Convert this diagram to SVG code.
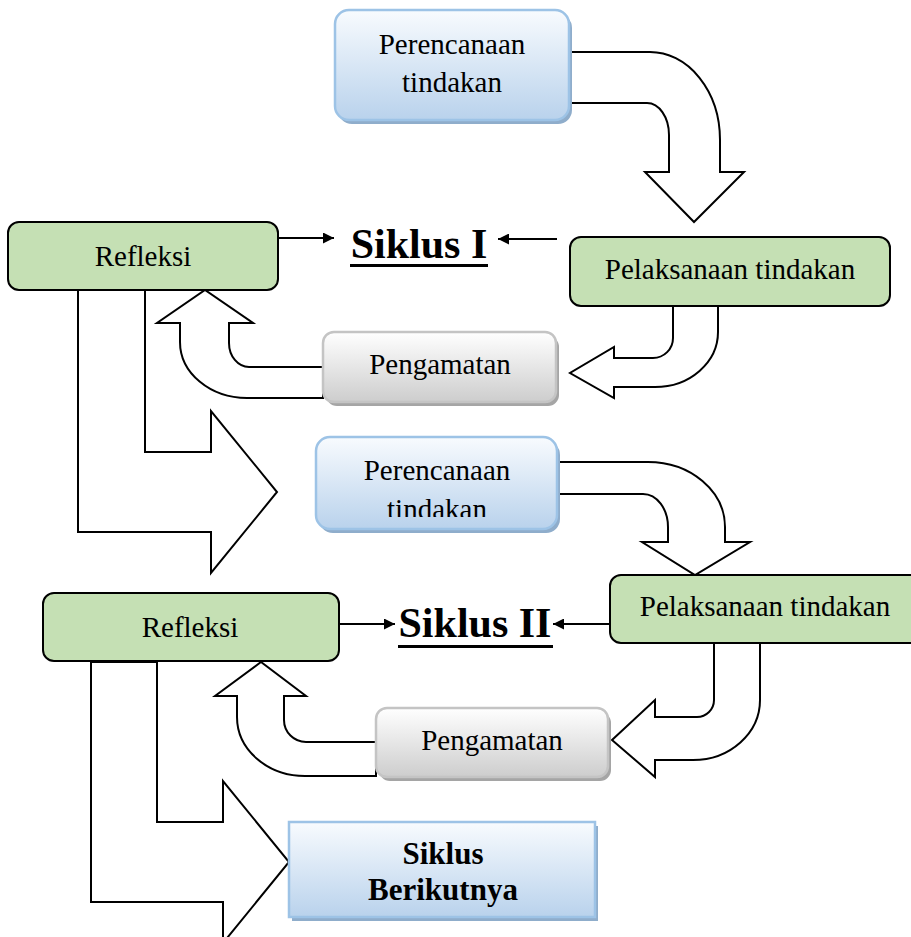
<svg xmlns="http://www.w3.org/2000/svg" width="911" height="937" viewBox="0 0 911 937">
<defs>
<linearGradient id="gBlue" x1="0" y1="0" x2="0" y2="1">
<stop offset="0" stop-color="#f8fbfe"/>
<stop offset="1" stop-color="#b9d2ec"/>
</linearGradient>
<linearGradient id="gGray" x1="0" y1="0" x2="0" y2="1">
<stop offset="0" stop-color="#ffffff"/>
<stop offset="1" stop-color="#cdcdcd"/>
</linearGradient>
<marker id="ah" viewBox="0 0 10 10" refX="10" refY="5" markerWidth="14" markerHeight="11" markerUnits="userSpaceOnUse" orient="auto">
<path d="M0,0 L10,5 L0,10 Z" fill="#000"/>
</marker>
<clipPath id="clipP2"><rect x="316" y="437" width="245" height="80"/></clipPath>
</defs>
<style>
.t{font-family:"Liberation Serif","Times New Roman",serif;font-size:29px;fill:#000;text-anchor:middle}
.tb{font-family:"Liberation Serif","Times New Roman",serif;font-weight:bold;fill:#000;text-anchor:middle}
.blk{fill:#fff;stroke:#000;stroke-width:2;stroke-linejoin:miter}
.green{fill:#c5e0b4;stroke:#000;stroke-width:2}
.blue{fill:url(#gBlue);stroke:#9dc3e6;stroke-width:2.5}
.blueSh{fill:#8fadcb}
.gray{fill:url(#gGray);stroke:#c4c4c4;stroke-width:2.5}
.graySh{fill:#a5a5a5}
.ln{stroke:#000;stroke-width:2;fill:none;marker-end:url(#ah)}
</style>

<g id="connectors">
<!-- cycle I -->
<path class="blk" d="M569,52 H650 A70,88 0 0 1 720,140 V172 H744 L694,222 L645,172 H669 V135 A22,32 0 0 0 647,103 H569 Z"/>
<path class="blk" d="M673,306 V338 A20,20 0 0 1 653,358 H614 V347 L570,373 L614,398 V387 H655 A63,55 0 0 0 718,332 V306 Z"/>
<path class="blk" d="M323,367 H249 A20,24 0 0 1 229,343 V323 H253 L205,290 L157,323 H180 V342 A67,56 0 0 0 247,398 H323 Z"/>
<path class="blk" d="M78,290 V532 H211 V573 L277,492 L211,411 V452 H145 V290"/>
<line class="ln" x1="278" y1="238" x2="334" y2="238"/>
<line class="ln" x1="557" y1="239" x2="498" y2="239"/>
<!-- cycle II -->
<path class="blk" d="M558,462 H648 A77,65 0 0 1 725,527 V542 H750 L695,575 L642,542 H668 V527 A25,33 0 0 0 643,494 H558 Z"/>
<path class="blk" d="M714,643 V700 A17,17 0 0 1 697,717 H655 V700 L612,740 L655,777 V760 H693 A67,60 0 0 0 760,700 V643 Z"/>
<path class="blk" d="M376,742 H306 A22,22 0 0 1 284,720 V696 H306 L261,662 L215,696 H237 V717 A68,59 0 0 0 305,776 H376 Z"/>
<path class="blk" d="M91,662 V902 H223 V943 L289,862 L223,781 V822 H157 V662 Z"/>
<line class="ln" x1="339" y1="624" x2="395" y2="624"/>
<line class="ln" x1="610" y1="624" x2="553" y2="624"/>
</g>

<g id="perencanaan1">
<rect class="blueSh" x="338" y="14" width="234" height="110" rx="14"/>
<rect class="blue" x="335" y="10" width="234" height="110" rx="14"/>
<text class="t" x="452" y="54">Perencanaan</text>
<text class="t" x="452" y="92">tindakan</text>
</g>

<g id="refleksi1">
<rect class="green" x="8" y="222" width="270" height="68" rx="11"/>
<text class="t" x="143" y="266">Refleksi</text>
</g>

<g id="siklus1">
<text class="tb" x="419" y="258" font-size="42">Siklus I</text>
<rect x="350" y="264" width="138" height="3" fill="#000"/>
</g>

<g id="pelaksanaan1">
<rect class="green" x="570" y="237" width="320" height="69" rx="11"/>
<text class="t" x="730" y="279">Pelaksanaan tindakan</text>
</g>

<g id="pengamatan1">
<rect class="graySh" x="326" y="336" width="233" height="70" rx="11"/>
<rect class="gray" x="323" y="332" width="233" height="70" rx="11"/>
<text class="t" x="440" y="374">Pengamatan</text>
</g>

<g id="perencanaan2">
<rect class="blueSh" x="319" y="441" width="241" height="92" rx="14"/>
<rect class="blue" x="316" y="437" width="241" height="92" rx="14"/>
<g clip-path="url(#clipP2)">
<text class="t" x="437" y="480">Perencanaan</text>
<text class="t" x="437" y="519">tindakan</text>
</g>
</g>

<g id="refleksi2">
<rect class="green" x="43" y="593" width="296" height="68" rx="11"/>
<text class="t" x="190" y="637">Refleksi</text>
</g>

<g id="siklus2">
<text class="tb" x="475" y="637" font-size="42">Siklus II</text>
<rect x="398" y="645" width="155" height="3" fill="#000"/>
</g>

<g id="pelaksanaan2">
<rect class="green" x="610" y="575" width="320" height="68" rx="11"/>
<text class="t" x="765" y="616">Pelaksanaan tindakan</text>
</g>

<g id="pengamatan2">
<rect class="graySh" x="379" y="712" width="232" height="69" rx="11"/>
<rect class="gray" x="376" y="708" width="232" height="69" rx="11"/>
<text class="t" x="492" y="750">Pengamatan</text>
</g>

<g id="siklusBerikutnya">
<rect class="blueSh" x="292" y="826" width="306" height="95"/>
<rect class="blue" x="289" y="822" width="306" height="95"/>
<text class="tb" x="443" y="864" font-size="31">Siklus</text>
<text class="tb" x="443" y="900" font-size="31">Berikutnya</text>
</g>
</svg>
